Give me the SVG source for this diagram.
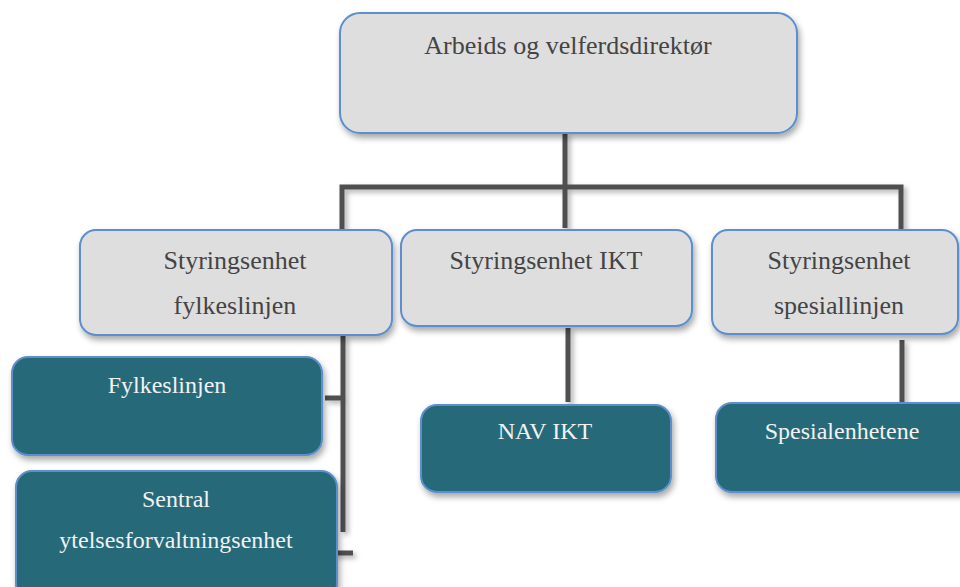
<svg xmlns="http://www.w3.org/2000/svg" width="960" height="587" viewBox="0 0 960 587">
<defs>
<filter id="sh" x="-10%" y="-10%" width="125%" height="135%">
<feDropShadow dx="2" dy="4" stdDeviation="3" flood-color="#000" flood-opacity="0.35"/>
</filter>
<filter id="lsh" filterUnits="userSpaceOnUse" x="0" y="0" width="960" height="587">
<feDropShadow dx="3" dy="3" stdDeviation="2.5" flood-color="#000" flood-opacity="0.3"/>
</filter>
</defs>
<style>
.g{fill:#dedede;stroke:#5b8fcc;stroke-width:2;filter:url(#sh)}
.t{fill:#286a79;stroke:#5b8fcc;stroke-width:2;filter:url(#sh)}
.gt{font-size:26px;fill:#444;text-anchor:middle}
.tt{font-size:24px;fill:#f2f2f2;text-anchor:middle}
.c{fill:none;stroke:#505050;stroke-width:5;filter:url(#lsh)}
</style>
<rect width="960" height="587" fill="#fff"/>
<g id="connectors">
<path class="c" d="M565 133 V228 M342 230 V187 H901 V230"/>
<path class="c" d="M568 328 V402"/>
<path class="c" d="M902 340 V402"/>
<path class="c" d="M343 336 V532 M325 398 H343"/>
<path class="c" d="M333 553 H353"/>
</g>
<g font-family="'Liberation Serif', 'Times New Roman', serif">
<g id="n-top">
<rect class="g" x="340" y="13" width="457" height="120" rx="20"/>
<text class="gt" x="568" y="54">Arbeids og velferdsdirektør</text>
</g>
<g id="n-fylke-styr">
<rect class="g" x="80" y="230" width="312" height="105" rx="16"/>
<text class="gt" x="235" y="269">Styringsenhet</text>
<text class="gt" x="235" y="314">fylkeslinjen</text>
</g>
<g id="n-ikt-styr">
<rect class="g" x="401" y="230" width="291" height="96" rx="16"/>
<text class="gt" x="546" y="269">Styringsenhet IKT</text>
</g>
<g id="n-spes-styr">
<rect class="g" x="712" y="230" width="246" height="104" rx="16"/>
<text class="gt" x="839" y="269">Styringsenhet</text>
<text class="gt" x="839" y="314">spesiallinjen</text>
</g>
<g id="n-fylke">
<rect class="t" x="12" y="357" width="310" height="98" rx="16"/>
<text class="tt" x="167" y="393">Fylkeslinjen</text>
</g>
<g id="n-sentral">
<rect class="t" x="16" y="471" width="321" height="130" rx="16"/>
<text class="tt" x="176" y="507">Sentral</text>
<text class="tt" x="176" y="548">ytelsesforvaltningsenhet</text>
</g>
<g id="n-navikt">
<rect class="t" x="421" y="405" width="250" height="87" rx="16"/>
<text class="tt" x="545" y="439">NAV IKT</text>
</g>
<g id="n-spes">
<rect class="t" x="716" y="403" width="262" height="89" rx="16"/>
<text class="tt" x="842" y="439">Spesialenhetene</text>
</g>
</g>
</svg>
